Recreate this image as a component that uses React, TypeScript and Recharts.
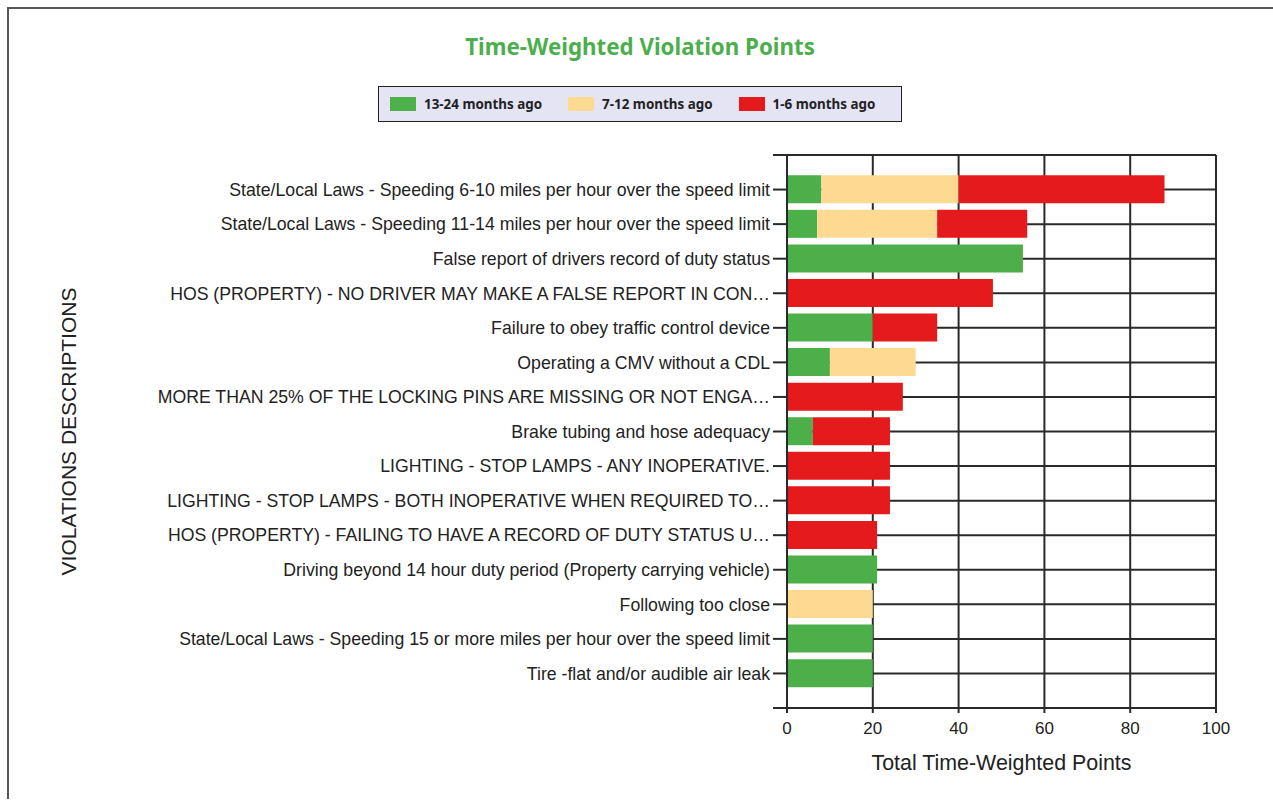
import React from 'react';
import { BarChart, Bar, XAxis, YAxis, CartesianGrid, Label } from 'recharts';

// violation descriptions, top to bottom
const violationLabels = [
  'State/Local Laws - Speeding 6-10 miles per hour over the speed limit',
  'State/Local Laws - Speeding 11-14 miles per hour over the speed limit',
  'False report of drivers record of duty status',
  'HOS (PROPERTY) - NO DRIVER MAY MAKE A FALSE REPORT IN CON…',
  'Failure to obey traffic control device',
  'Operating a CMV without a CDL',
  'MORE THAN 25% OF THE LOCKING PINS ARE MISSING OR NOT ENGA…',
  'Brake tubing and hose adequacy',
  'LIGHTING - STOP LAMPS - ANY INOPERATIVE.',
  'LIGHTING - STOP LAMPS - BOTH INOPERATIVE WHEN REQUIRED TO…',
  'HOS (PROPERTY) - FAILING TO HAVE A RECORD OF DUTY STATUS U…',
  'Driving beyond 14 hour duty period (Property carrying vehicle)',
  'Following too close',
  'State/Local Laws - Speeding 15 or more miles per hour over the speed limit',
  'Tire -flat and/or audible air leak',
];

const points13to24 = [8, 7, 55, 0, 20, 10, 0, 6, 0, 0, 0, 21, 0, 20, 20];
const points7to12 = [32, 28, 0, 0, 0, 20, 0, 0, 0, 0, 0, 0, 20, 0, 0];
const points1to6 = [48, 21, 0, 48, 15, 0, 27, 18, 24, 24, 21, 0, 0, 0, 0];

const xTicks = [0, 20, 40, 60, 80, 100];

const SERIES = [
  { key: 'older', name: '13-24 months ago', color: '#4daf4a' },
  { key: 'mid', name: '7-12 months ago', color: '#fed992' },
  { key: 'recent', name: '1-6 months ago', color: '#e41a1c' },
];

const data = violationLabels.map((label, i) => ({
  pos: i + 1,
  label,
  older: points13to24[i],
  mid: points7to12[i],
  recent: points1to6[i],
}));

// one empty slot above and below the rows, like the original frame
const rowTicks = Array.from({ length: violationLabels.length + 2 }, (_, i) => i);

const CHART_W = 1264;
const CHART_H = 790;
const GRID = '#2a2a2a';

const YTitle = ({ viewBox }: any) => {
  const x = 67;
  const y = viewBox.y + viewBox.height / 2;
  return (
    <text
      x={x}
      y={y}
      transform={`rotate(-90, ${x}, ${y})`}
      textAnchor="middle"
      fontSize={21}
      fontFamily="'Liberation Sans', Arial, sans-serif"
      fill="#222"
    >
      VIOLATIONS DESCRIPTIONS
    </text>
  );
};

export default function App() {
  return (
    <div
      style={{
        position: 'absolute',
        left: 7,
        top: 7,
        borderTop: '2px solid #555',
        borderLeft: '2px solid #555',
        background: '#fff',
        width: CHART_W,
        height: CHART_H,
      }}
    >
      <div
        style={{
          position: 'absolute',
          left: 0,
          top: 22,
          width: CHART_W - 2,
          textAlign: 'center',
          fontFamily: "'Noto Sans', sans-serif",
          fontWeight: 700,
          fontSize: 22.3,
          color: '#4cae4c',
        }}
      >
        Time-Weighted Violation Points
      </div>

      <div
        style={{
          position: 'absolute',
          left: 369,
          top: 77,
          width: 511,
          height: 34,
          border: '1px solid #222',
          background: '#e4e4f5',
          display: 'flex',
          alignItems: 'center',
          paddingLeft: 11,
          gap: 26,
          boxSizing: 'content-box',
          fontFamily: "'Noto Sans', sans-serif",
          fontWeight: 700,
          fontSize: 13.4,
          color: '#222',
        }}
      >
        {SERIES.map((s) => (
          <div key={s.key} style={{ display: 'flex', alignItems: 'center' }}>
            <span style={{ display: 'inline-block', width: 26, height: 14, background: s.color, marginRight: 8 }} />
            <span>{s.name}</span>
          </div>
        ))}
      </div>

      <BarChart
        width={CHART_W}
        height={CHART_H}
        data={data}
        layout="vertical"
        margin={{ top: 146, right: 57, bottom: 21, left: 0 }}
      >
        <CartesianGrid stroke={GRID} strokeWidth={2} />
        <XAxis
          type="number"
          domain={[0, 100]}
          ticks={xTicks}
          interval={0}
          height={70}
          axisLine={false}
          tickSize={5}
          tickMargin={9}
          tickLine={{ stroke: GRID, strokeWidth: 2 }}
          tick={{ fontSize: 17, fill: '#222', fontFamily: "'Liberation Sans', Arial, sans-serif" }}
        >
          <Label
            value="Total Time-Weighted Points"
            position="insideBottom"
            offset={8}
            style={{ fontSize: 21.4, fill: '#222', fontFamily: "'Liberation Sans', Arial, sans-serif" }}
          />
        </XAxis>
        <YAxis
          type="number"
          dataKey="pos"
          domain={[0, violationLabels.length + 1]}
          ticks={rowTicks}
          interval={0}
          width={778}
          axisLine={{ stroke: GRID, strokeWidth: 2 }}
          tickSize={14}
          tickMargin={3}
          tickLine={{ stroke: GRID, strokeWidth: 2 }}
          tickFormatter={(v: number) => violationLabels[v - 1] ?? ''}
          tick={{ fontSize: 17.7, fill: '#222', fontFamily: "'Liberation Sans', Arial, sans-serif" }}
        >
          <Label content={YTitle} />
        </YAxis>
        {SERIES.map((s) => (
          <Bar
            key={s.key}
            dataKey={s.key}
            name={s.name}
            stackId="v"
            fill={s.color}
            barSize={28}
            isAnimationActive={false}
          />
        ))}
      </BarChart>
    </div>
  );
}
